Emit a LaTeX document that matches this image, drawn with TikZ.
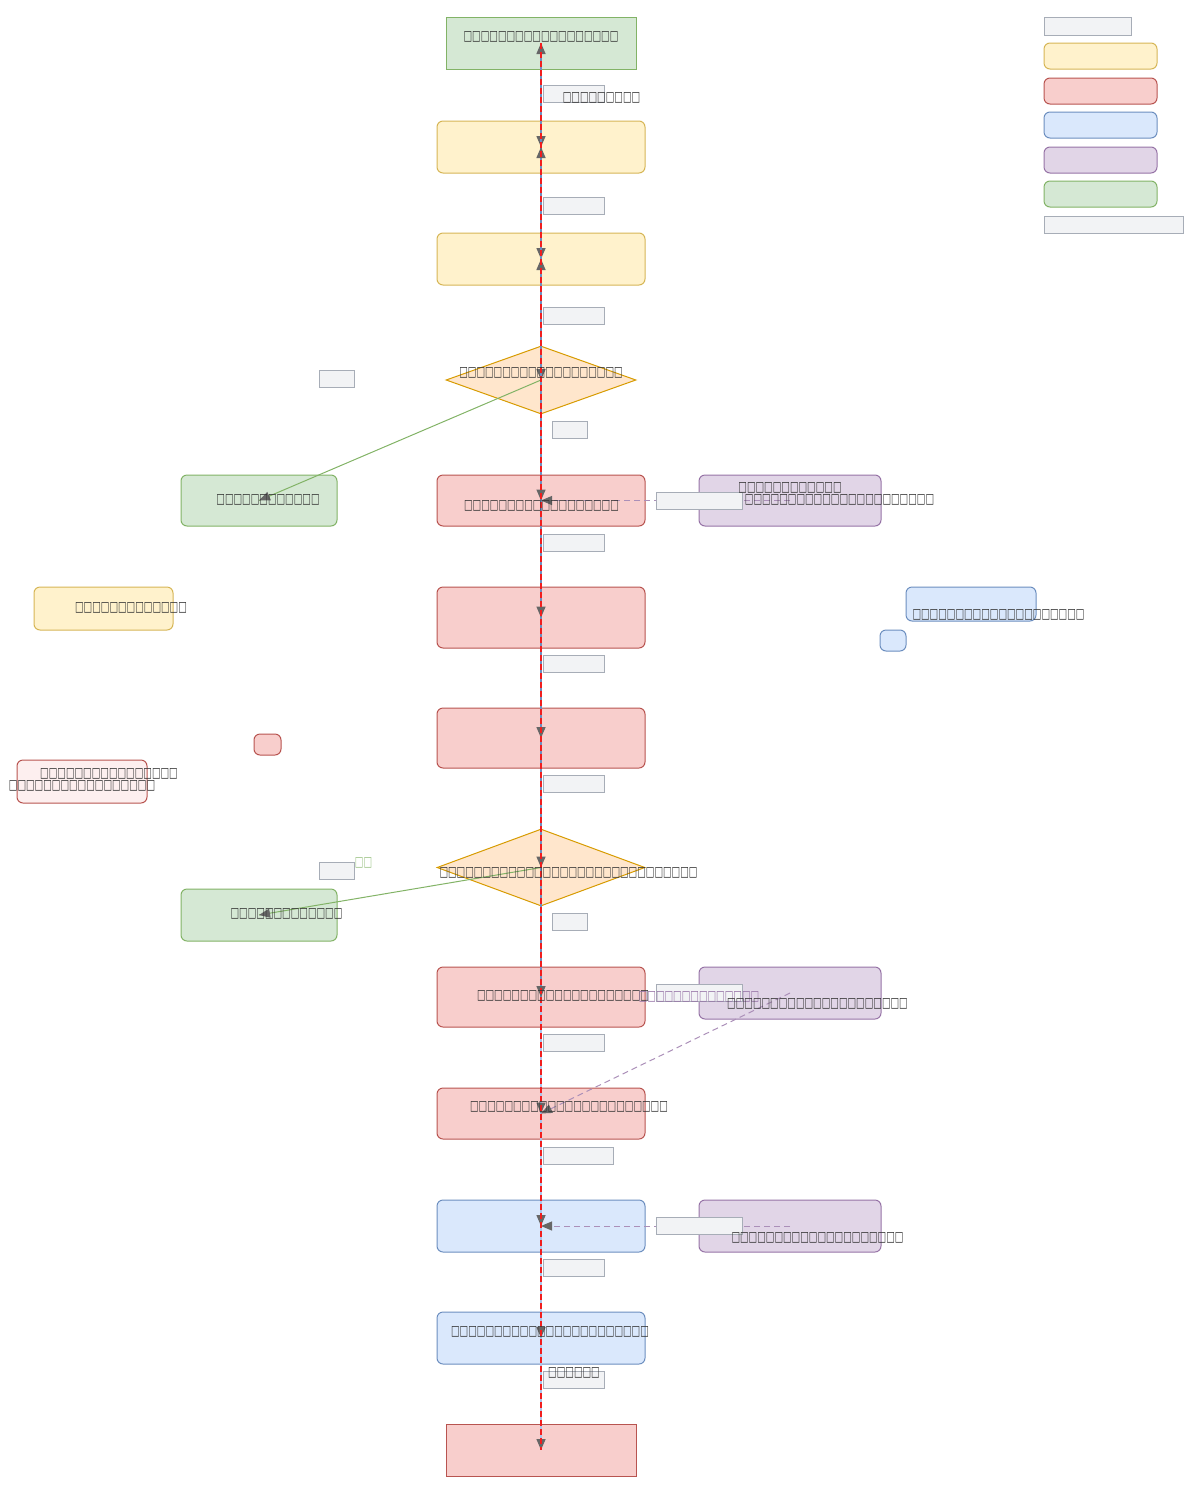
\documentclass[tikz,border=0pt]{standalone}
\usepackage{fontspec}
\newfontfamily\boxfont[FakeStretch=0.65]{DejaVu Sans}
\usetikzlibrary{calc,shapes.geometric,arrows.meta,decorations.markings}

\definecolor{grnfill}{HTML}{D5E8D4}\definecolor{grnline}{HTML}{82B366}
\definecolor{ylwfill}{HTML}{FFF2CC}\definecolor{ylwline}{HTML}{D6B656}
\definecolor{redfill}{HTML}{F8CECC}\definecolor{redline}{HTML}{B85450}
\definecolor{blufill}{HTML}{DAE8FC}\definecolor{bluline}{HTML}{6C8EBF}
\definecolor{purfill}{HTML}{E1D5E7}\definecolor{purline}{HTML}{9673A6}
\definecolor{orgfill}{HTML}{FFE6CC}\definecolor{orgline}{HTML}{D79B00}
\definecolor{lblfill}{HTML}{F2F3F5}\definecolor{lblline}{HTML}{A7ADB7}
\definecolor{pinkfill}{HTML}{FDEFEF}
\definecolor{txtgray}{HTML}{333333}
\definecolor{arrgray}{HTML}{666666}
\definecolor{hilite}{HTML}{F01E1E}
\definecolor{lightblu}{HTML}{A9C4EB}

\begin{document}
\begin{tikzpicture}
% pixel grid, y downwards
[
    x=1pt, y=-1pt,
    decoration={
      markings,
      mark=at position 1 with {\arrow[color=arrgray,solid]{Triangle[length=11pt,width=9pt]}};
    },
    shp/.style={draw, line width=1pt, inner sep=0pt},
    rbox/.style={shp, rounded corners=6pt},
    lbl/.style={draw=lblline, fill=lblfill, line width=1pt, inner sep=0pt, minimum height=17pt},
    txt/.style={text=txtgray, inner sep=0pt, font=\boxfont\fontsize{14}{16}\selectfont},
    flow/.style={line width=1.5pt, postaction={decorate}}
]
\useasboundingbox (0,0) rectangle (1200,1494);

% main column
\node[shp, draw=grnline, fill=grnfill, minimum width=190pt, minimum height=52pt] (start) at (541,43) {};
\node[rbox, draw=ylwline, fill=ylwfill, minimum width=208pt, minimum height=52pt] (ylw1) at (541,147) {};
\node[rbox, draw=ylwline, fill=ylwfill, minimum width=208pt, minimum height=52pt] (ylw2) at (541,259) {};
\node[shp, diamond, draw=orgline, fill=orgfill, minimum width=190pt, minimum height=68pt] (dec1) at (541,380) {};
\node[rbox, draw=redline, fill=redfill, minimum width=208pt, minimum height=51pt] (red1) at (541,500.5) {};
\node[rbox, draw=redline, fill=redfill, minimum width=208pt, minimum height=61pt] (red2) at (541,617.5) {};
\node[rbox, draw=redline, fill=redfill, minimum width=208pt, minimum height=60pt] (red3) at (541,738) {};
\node[shp, diamond, draw=orgline, fill=orgfill, minimum width=208pt, minimum height=77pt] (dec2) at (541,867.5) {};
\node[rbox, draw=redline, fill=redfill, minimum width=208pt, minimum height=60pt] (red4) at (541,997) {};
\node[rbox, draw=redline, fill=redfill, minimum width=208pt, minimum height=51pt] (red5) at (541,1113.5) {};
\node[rbox, draw=bluline, fill=blufill, minimum width=208pt, minimum height=52pt] (blu1) at (541,1226) {};
\node[rbox, draw=bluline, fill=blufill, minimum width=208pt, minimum height=52pt] (blu2) at (541,1338) {};
\node[shp, draw=redline, fill=redfill, minimum width=190pt, minimum height=52pt] (stop) at (541,1450) {};

% side boxes
\node[rbox, draw=grnline, fill=grnfill, minimum width=156pt, minimum height=51pt] (yes1) at (259,500.5) {};
\node[rbox, draw=grnline, fill=grnfill, minimum width=156pt, minimum height=52pt] (yes2) at (259,915) {};
\node[rbox, draw=purline, fill=purfill, minimum width=182pt, minimum height=51pt] (pur1) at (790,500.5) {};
\node[rbox, draw=purline, fill=purfill, minimum width=182pt, minimum height=52pt] (pur2) at (790,993) {};
\node[rbox, draw=purline, fill=purfill, minimum width=182pt, minimum height=52pt] (pur3) at (790,1226) {};
\node[rbox, draw=ylwline, fill=ylwfill, minimum width=139pt, minimum height=43pt] (note1) at (103.5,608.5) {};
\node[rbox, draw=bluline, fill=blufill, minimum width=130pt, minimum height=34pt] (note2) at (971,604) {};
\node[rbox, draw=bluline, fill=blufill, minimum width=26pt, minimum height=21pt] (dot2) at (893,640.5) {};
\node[rbox, draw=redline, fill=redfill, minimum width=27pt, minimum height=21pt] (dot1) at (267.5,744.5) {};
\node[rbox, draw=redline, fill=pinkfill, minimum width=130pt, minimum height=43pt] (note3) at (82,781.5) {};

% legend
\node[lbl, minimum width=87pt, minimum height=18pt] (keylbl) at (1087.5,26) {};
\node[rbox, draw=ylwline, fill=ylwfill, minimum width=113pt, minimum height=26pt] (keyylw) at (1100.5,56) {};
\node[rbox, draw=redline, fill=redfill, minimum width=113pt, minimum height=26pt] (keyred) at (1100.5,91) {};
\node[rbox, draw=bluline, fill=blufill, minimum width=113pt, minimum height=26pt] (keyblu) at (1100.5,125) {};
\node[rbox, draw=purline, fill=purfill, minimum width=113pt, minimum height=26pt] (keypur) at (1100.5,160) {};
\node[rbox, draw=grnline, fill=grnfill, minimum width=113pt, minimum height=26pt] (keygrn) at (1100.5,194) {};
\node[lbl, minimum width=139pt] (keyend) at (1113.5,224.5) {};

% connectors
\draw[flow, grnline] (start.center) -- (ylw1.center);
\draw[flow, bluline] (ylw1.center) -- (ylw2.center);
\draw[flow, bluline] (ylw2.center) -- (dec1.center);
\draw[flow, bluline] (ylw1.center) -- (start.center);
\draw[flow, bluline] (ylw2.center) -- (ylw1.center);
\draw[flow, bluline] (dec1.center) -- (ylw2.center);
\draw[flow, bluline] (dec1.center) -- (red1.center);
\draw[flow, bluline] (red1.center) -- (red2.center);
\draw[flow, bluline] (red2.center) -- (red3.center);
\draw[flow, bluline] (red3.center) -- (dec2.center);
\draw[flow, bluline] (dec2.center) -- (red4.center);
\draw[flow, lightblu] (red4.center) -- (red5.center);
\draw[flow, lightblu] (red5.center) -- (blu1.center);
\draw[flow, lightblu] (blu1.center) -- (blu2.center);
\draw[flow, lightblu] (blu2.center) -- (stop.center);
\draw[postaction={decorate}, grnline, line width=1pt] (dec1.center) -- (yes1.center);
\draw[postaction={decorate}, grnline, line width=1pt] (dec2.center) -- (yes2.center);
\draw[postaction={decorate}, purline!80, line width=1pt, dash pattern=on 6pt off 4pt] (pur1.center) -- (red1.center);
\draw[postaction={decorate}, purline!80, line width=1pt, dash pattern=on 6pt off 4pt] (pur2.center) -- (red5.center);
\draw[postaction={decorate}, purline!80, line width=1pt, dash pattern=on 6pt off 4pt] (pur3.center) -- (blu1.center);

% highlighted path
\draw[hilite, line width=1.5pt, dash pattern=on 6pt off 3pt] (start.center) -- (stop.center);

% edge labels
\node[lbl, minimum width=61pt] (e1) at (573.5,93.5) {};
\node[lbl, minimum width=61pt] (e2) at (573.5,205.5) {};
\node[lbl, minimum width=61pt] (e3) at (573.5,315.5) {};
\node[lbl, minimum width=35pt] (e4) at (336.5,378.5) {};
\node[lbl, minimum width=35pt] (e5) at (569.5,429.5) {};
\node[lbl, minimum width=86pt] (e6) at (699,500.5) {};
\node[lbl, minimum width=61pt] (e7) at (573.5,542.5) {};
\node[lbl, minimum width=61pt] (e8) at (573.5,663.5) {};
\node[lbl, minimum width=61pt] (e9) at (573.5,783.5) {};
\node[lbl, minimum width=35pt] (e10) at (336.5,870.5) {};
\node[lbl, minimum width=35pt] (e11) at (569.5,921.5) {};
\node[lbl, minimum width=86pt] (e12) at (699,992.5) {};
\node[lbl, minimum width=61pt] (e13) at (573.5,1042.5) {};
\node[lbl, minimum width=70pt] (e14) at (578,1155.5) {};
\node[lbl, minimum width=86pt] (e15) at (699,1225.5) {};
\node[lbl, minimum width=61pt] (e16) at (573.5,1267.5) {};
\node[lbl, minimum width=61pt] (e17) at (573.5,1379.5) {};

% texts
\node[txt] (tstart) at (541,37) {□□□□□□□□□□□□□□□□□□};
\node[txt] (te1) at (601.5,98) {□□□□□□□□□};
\node[txt] (tdec1) at (541,373) {□□□□□□□□□□□□□□□□□□□};
\node[txt] (tyes1) at (268,500) {□□□□□□□□□□□□};
\node[txt] (tred1) at (541.5,506) {□□□□□□□□□□□□□□□□□□};
\node[txt] (tpur1a) at (790,488) {□□□□□□□□□□□□};
\node[txt] (tpur1b) at (839.5,500) {□□□□□□□□□□□□□□□□□□□□□□};
\node[txt] (tnote1) at (131,608) {□□□□□□□□□□□□□};
\node[txt] (tnote2) at (998.5,615) {□□□□□□□□□□□□□□□□□□□□};
\node[txt] (tnote3a) at (109,774) {□□□□□□□□□□□□□□□□};
\node[txt] (tnote3b) at (82,786) {□□□□□□□□□□□□□□□□□};
\node[txt] (tdec2) at (568.5,873) {□□□□□□□□□□□□□□□□□□□□□□□□□□□□□□};
\node[txt, text=grnline!80] (te10) at (363.5,863) {□□};
\node[txt] (tyes2) at (286.5,914) {□□□□□□□□□□□□□};
\node[txt] (tred4) at (563,996) {□□□□□□□□□□□□□□□□□□□□};
\node[txt, text=purline] (te12) at (699,997) {□□□□□□□□□□□□□□};
\node[txt] (tpur2) at (817.5,1004) {□□□□□□□□□□□□□□□□□□□□□};
\node[txt] (tred5) at (569,1107) {□□□□□□□□□□□□□□□□□□□□□□□};
\node[txt] (tpur3) at (817.5,1238) {□□□□□□□□□□□□□□□□□□□□};
\node[txt] (tblu2) at (550,1332) {□□□□□□□□□□□□□□□□□□□□□□□};
\node[txt] (te17) at (574,1373) {□□□□□□};

\end{tikzpicture}
\end{document}
